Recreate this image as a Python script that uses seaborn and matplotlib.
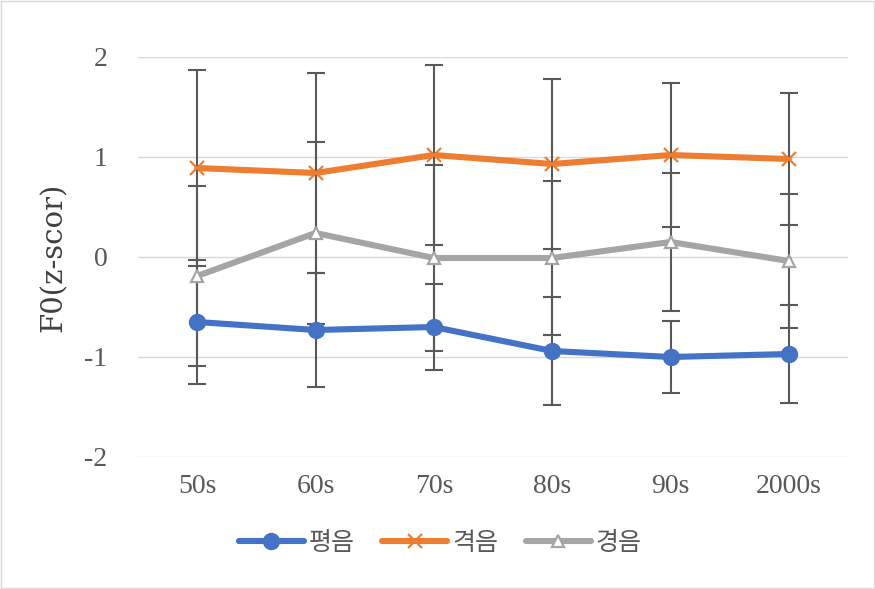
import matplotlib
matplotlib.use("Agg")
import matplotlib.pyplot as plt
import seaborn as sns
import pandas as pd
import numpy as np
from matplotlib.patches import Rectangle

# data
decades = ["50s", "60s", "70s", "80s", "90s", "2000s"]
series_names = ["평음", "격음", "경음"]
plain = [-0.65, -0.73, -0.70, -0.94, -1.00, -0.97]
aspirated = [0.89, 0.84, 1.02, 0.93, 1.02, 0.98]
tense = [-0.19, 0.24, -0.01, -0.01, 0.15, -0.04]
plain_err = [0.62, 0.57, 0.43, 0.54, 0.36, 0.49]
aspirated_err = [0.98, 1.00, 0.90, 0.85, 0.72, 0.66]
tense_err = [0.90, 0.91, 0.93, 0.77, 0.69, 0.67]

means = [plain, aspirated, tense]
errs = [plain_err, aspirated_err, tense_err]
colors = ["#4472c4", "#ed7d31", "#a5a5a5"]

df = pd.DataFrame({
    "decade": decades * 3,
    "series": np.repeat(series_names, len(decades)),
    "value": plain + aspirated + tense,
})

sns.set_theme(style="white")
plt.rcParams["font.family"] = ["Liberation Serif", "Noto Sans CJK KR"]

fig = plt.figure(figsize=(8.75, 5.89), dpi=100)
ax = fig.add_axes([138 / 875, 1 - 457 / 589, 710 / 875, 400 / 589])

lw = 4.4
sns.lineplot(data=df, x="decade", y="value", hue="series", palette=colors,
             sort=False, linewidth=lw, ax=ax, legend=False, zorder=2)

xs = np.arange(len(decades))
for m, e in zip(means, errs):
    ax.errorbar(xs, m, yerr=e, fmt="none", ecolor="#595959", elinewidth=1.5,
                capsize=6.5, capthick=1.5, zorder=3)

# markers on top
ax.plot(xs, plain, linestyle="none", marker="o", markersize=11.5,
        color=colors[0], zorder=4)
ax.plot(xs, aspirated, linestyle="none", marker="x", markersize=10,
        markeredgewidth=1.6, color=colors[1], zorder=4)
ax.plot(xs, tense, linestyle="none", marker="^", markersize=9,
        markerfacecolor="white", markeredgecolor=colors[2],
        markeredgewidth=1.6, zorder=4)

ax.set_xlim(-0.5, 5.5)
ax.set_ylim(-2, 2)
ax.set_yticks([-2, -1, 0, 1, 2])
ax.set_yticklabels(["-2", "-1", "0", "1", "2"])
ax.grid(axis="y", color="#d9d9d9", linewidth=1)
ax.set_axisbelow(True)
for s in ax.spines.values():
    s.set_visible(False)
ax.tick_params(axis="both", length=0, labelsize=20, colors="#595959")
ax.tick_params(axis="y", pad=22)
ax.tick_params(axis="x", pad=12)
ax.set_xlabel("")
ax.set_ylabel("F0(z-scor)", fontsize=21, color="#404040", labelpad=12,
              family=["DejaVu Serif"])

handles = [
    plt.Line2D([], [], color=colors[0], linewidth=lw, marker="o", markersize=11.5),
    plt.Line2D([], [], color=colors[1], linewidth=lw, marker="x", markersize=10,
               markeredgewidth=1.6),
    plt.Line2D([], [], color=colors[2], linewidth=lw, marker="^", markersize=9,
               markerfacecolor="white", markeredgewidth=1.6),
]
leg = fig.legend(handles, series_names, loc="center", bbox_to_anchor=(440 / 875, 1 - 543 / 589),
                 ncol=3, frameon=False, handlelength=2.6, columnspacing=1.1,
                 handletextpad=0.2, prop={"family": "Noto Sans CJK KR", "size": 18})
for t in leg.get_texts():
    t.set_color("#595959")

fig.patches.append(Rectangle((0.001, 0.001), 0.998, 0.998, transform=fig.transFigure,
                             fill=False, edgecolor="#d9d9d9", linewidth=1))

fig.savefig("out.png", dpi=100)
